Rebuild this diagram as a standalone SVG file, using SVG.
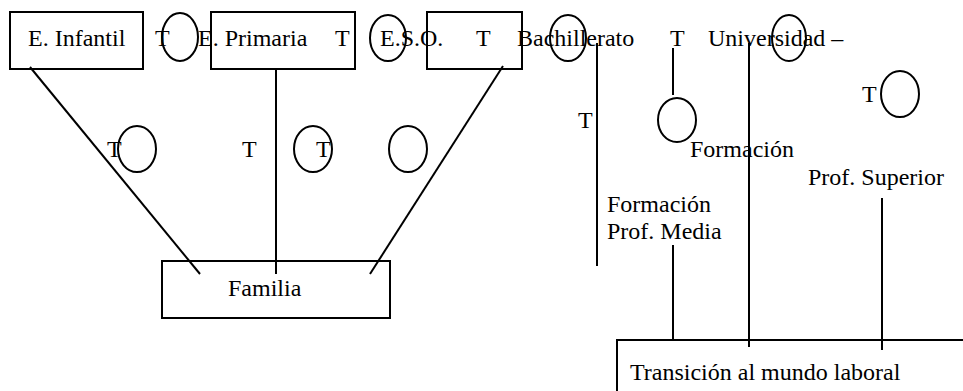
<svg xmlns="http://www.w3.org/2000/svg" width="963" height="391" viewBox="0 0 963 391">
<style>
text{font-family:"Liberation Serif","Times New Roman",serif;font-size:24px;fill:#000}
.b{fill:none;stroke:#000;stroke-width:2}
.c{fill:none;stroke:#000;stroke-width:2}
.l{stroke:#000;stroke-width:2;fill:none}
</style>
<rect width="963" height="391" fill="#fff"/>
<g id="connectors">
<line class="l" x1="30" y1="67" x2="200" y2="274"/>
<line class="l" x1="276" y1="68" x2="276" y2="274"/>
<line class="l" x1="503" y1="66" x2="370" y2="274"/>
<line class="l" x1="597" y1="43" x2="597" y2="266"/>
<line class="l" x1="673" y1="48" x2="673" y2="95"/>
<line class="l" x1="673" y1="245" x2="673" y2="340"/>
<line class="l" x1="749" y1="43" x2="749" y2="347"/>
<line class="l" x1="882" y1="198" x2="882" y2="350"/>
</g>
<g id="infantil"><rect class="b" x="10" y="12" width="133" height="57"/><text x="28" y="46">E. Infantil</text></g>
<g id="primaria"><rect class="b" x="211" y="12" width="144" height="57"/><text x="198" y="46">E. Primaria</text></g>
<g id="eso"><rect class="b" x="427" y="12" width="95" height="57"/><text x="380" y="46">E.S.O.</text></g>
<g id="bachillerato"><text x="517" y="46">Bachillerato</text></g>
<g id="universidad"><text x="708" y="46">Universidad –</text></g>
<g id="familia"><rect class="b" x="162" y="261" width="228" height="57"/><text x="228" y="296">Familia</text></g>
<g id="transicion"><rect class="b" x="617" y="340" width="360" height="70"/><text x="630" y="380">Transición al mundo laboral</text></g>
<g id="fpmedia"><text x="607" y="212">Formación</text><text x="607" y="239">Prof. Media</text></g>
<g id="fpsuperior"><text x="690" y="157">Formación</text><text x="808" y="185">Prof. Superior</text></g>
<g id="marks">
<text x="155" y="46">T</text>
<text x="335" y="46">T</text>
<text x="476" y="46">T</text>
<text x="670" y="46">T</text>
<text x="578" y="128">T</text>
<text x="862" y="102">T</text>
<text x="107" y="157">T</text>
<text x="242" y="157">T</text>
<text x="316" y="157">T</text>
<ellipse class="c" cx="180" cy="37" rx="18" ry="24"/>
<ellipse class="c" cx="388" cy="38" rx="18" ry="23"/>
<ellipse class="c" cx="568" cy="38" rx="18" ry="23"/>
<ellipse class="c" cx="789" cy="38" rx="17" ry="23"/>
<ellipse class="c" cx="677" cy="120" rx="19" ry="22"/>
<ellipse class="c" cx="900" cy="94" rx="19" ry="23"/>
<ellipse class="c" cx="137" cy="149" rx="19" ry="23"/>
<ellipse class="c" cx="313" cy="149" rx="19" ry="23"/>
<ellipse class="c" cx="408" cy="149" rx="19" ry="23"/>
</g>
</svg>
